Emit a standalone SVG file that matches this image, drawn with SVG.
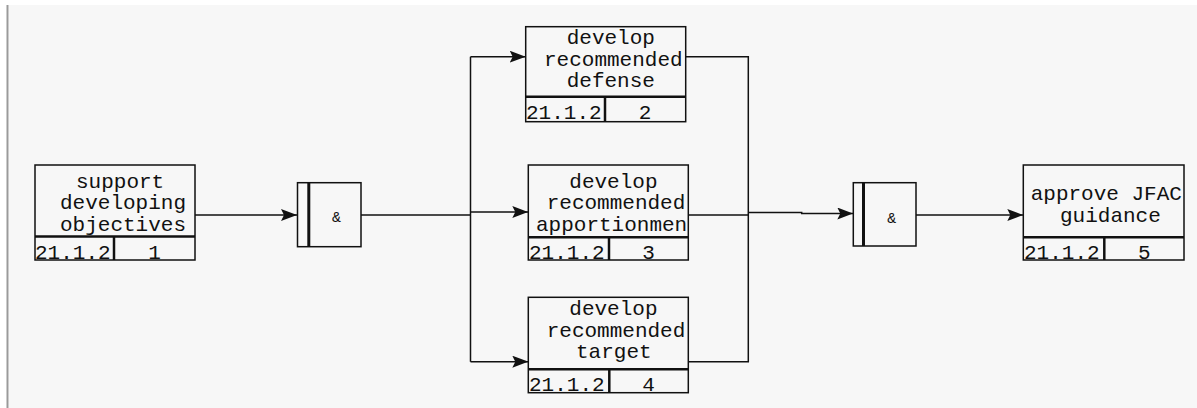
<svg xmlns="http://www.w3.org/2000/svg" width="1197" height="408" viewBox="0 0 1197 408">
<style>
.bx{fill:none;stroke:#111;stroke-width:1.5}
.sep{stroke:#111;stroke-width:2.5}
.t{font-family:"Liberation Mono","DejaVu Sans Mono",monospace;font-size:21px;fill:#111}
.c{text-anchor:middle}
.ln{fill:none;stroke:#111;stroke-width:1.5}
</style>
<defs>
<marker id="ah" markerUnits="userSpaceOnUse" markerWidth="16" markerHeight="12" refX="16" refY="6" orient="auto">
<path d="M0,0 L16,6 L0,12 L3,6 z" fill="#111"/>
</marker>
<clipPath id="cp3"><rect x="528" y="165" width="160" height="72"/></clipPath>
<clipPath id="cp5"><rect x="1023" y="165" width="161" height="72"/></clipPath>
</defs>
<rect x="0" y="0" width="1197" height="408" fill="#ffffff"/>
<rect x="9" y="5" width="1188" height="403" fill="#f7f7f7"/>
<line x1="7.5" y1="5" x2="7.5" y2="408" stroke="#9a9a9a" stroke-width="2"/>

<g id="connectors">
<path class="ln" d="M195,215 H297" marker-end="url(#ah)"/>
<path class="ln" d="M361,215 H470.5"/>
<path class="ln" d="M470.5,56.7 V361.7"/>
<path class="ln" d="M470.5,56.7 H525.7" marker-end="url(#ah)"/>
<path class="ln" d="M470.5,212 H528.3" marker-end="url(#ah)"/>
<path class="ln" d="M470.5,361.7 H528.3" marker-end="url(#ah)"/>
<path class="ln" d="M685.7,56.7 H748.3 V361.7 H688.3"/>
<path class="ln" d="M688.3,215 H748.3"/>
<path class="ln" d="M748.3,212.5 H801.7 V213.5 H853.3" marker-end="url(#ah)"/>
<path class="ln" d="M916,215 H1023.3" marker-end="url(#ah)"/>
</g>

<g id="node1">
<rect class="bx" x="35" y="165" width="160" height="95"/>
<line class="sep" x1="35" y1="236.5" x2="195" y2="236.5"/>
<line class="sep" x1="114" y1="236.5" x2="114" y2="260"/>
<text class="t" x="76" y="188">support</text>
<text class="t" x="60" y="209">developing</text>
<text class="t" x="60" y="230.5">objectives</text>
<text class="t" x="35" y="258.5">21.1.2</text>
<text class="t c" x="154.5" y="258.5">1</text>
</g>

<g id="gate1">
<rect class="bx" x="297.5" y="182.7" width="63.5" height="64"/>
<line x1="308.8" y1="182.7" x2="308.8" y2="246.7" stroke="#111" stroke-width="3"/>
<text class="t c" x="336.5" y="222" style="font-size:15px">&amp;</text>
</g>

<g id="node2">
<rect class="bx" x="525.7" y="26.7" width="160" height="95"/>
<line class="sep" x1="525.7" y1="96.7" x2="685.7" y2="96.7"/>
<line class="sep" x1="605" y1="96.7" x2="605" y2="121.7"/>
<text class="t" x="566.7" y="44">develop</text>
<text class="t" x="544" y="65.5">recommended</text>
<text class="t" x="566.7" y="87">defense</text>
<text class="t" x="526" y="119">21.1.2</text>
<text class="t c" x="645" y="119">2</text>
</g>

<g id="node3">
<rect class="bx" x="528.3" y="165" width="160" height="95"/>
<line class="sep" x1="528.3" y1="237.3" x2="688.3" y2="237.3"/>
<line class="sep" x1="609" y1="237.3" x2="609" y2="260"/>
<text class="t" x="569.3" y="188">develop</text>
<text class="t" x="546.7" y="209">recommended</text>
<text class="t" x="536" y="230.5" clip-path="url(#cp3)">apportionmen</text>
<text class="t" x="529" y="258.5">21.1.2</text>
<text class="t c" x="648.5" y="258.5">3</text>
</g>

<g id="node4">
<rect class="bx" x="528.3" y="297.3" width="160" height="95.4"/>
<line class="sep" x1="528.3" y1="369.3" x2="688.3" y2="369.3"/>
<line class="sep" x1="609.3" y1="369.3" x2="609.3" y2="392.7"/>
<text class="t" x="569.3" y="315">develop</text>
<text class="t" x="546.7" y="336.5">recommended</text>
<text class="t" x="576" y="357.5">target</text>
<text class="t" x="529" y="391">21.1.2</text>
<text class="t c" x="648.5" y="391">4</text>
</g>

<g id="gate2">
<rect class="bx" x="853.3" y="182.7" width="62.7" height="63.3"/>
<line x1="863.5" y1="182.7" x2="863.5" y2="246" stroke="#111" stroke-width="3"/>
<text class="t c" x="891.7" y="223" style="font-size:15px">&amp;</text>
</g>

<g id="node5">
<rect class="bx" x="1023.3" y="165" width="160.7" height="95"/>
<line class="sep" x1="1023.3" y1="237.3" x2="1184" y2="237.3"/>
<line class="sep" x1="1104.3" y1="237.3" x2="1104.3" y2="260"/>
<text class="t" x="1030.7" y="200" clip-path="url(#cp5)">approve JFAC</text>
<text class="t" x="1060" y="221.5">guidance</text>
<text class="t" x="1024" y="258.5">21.1.2</text>
<text class="t c" x="1144.3" y="258.5">5</text>
</g>
</svg>
